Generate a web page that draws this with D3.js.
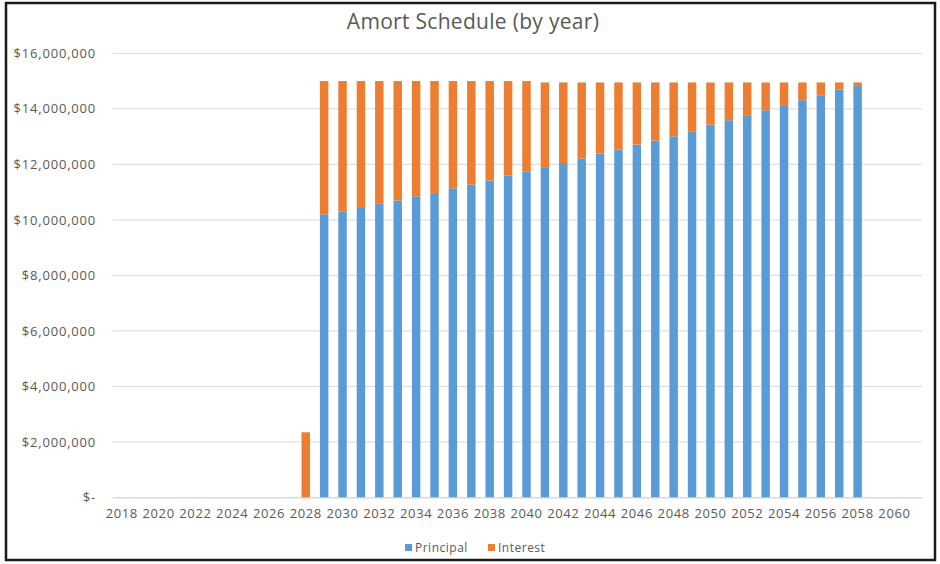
<!DOCTYPE html>
<html>
<head>
<meta charset="utf-8">
<script src="https://cdn.jsdelivr.net/npm/d3@7"></script>
<style>
  body { margin: 0; background: #fff; }
  svg { display: block; }
  text { font-family: "Open Sans", Lato, sans-serif; }
</style>
</head>
<body>
<svg id="chart" width="940" height="564"></svg>
<script>
// ---- data ----
const years = d3.range(2018, 2062); // 2018..2061 categories
const principal = [
  0,0,0,0,0,0,0,0,0,0,0,            // 2018-2028
  10.20e6, 10.31e6, 10.46e6, 10.58e6, 10.70e6, 10.85e6, 10.97e6, 11.14e6, 11.27e6, 11.42e6, // 2029-2038
  11.59e6, 11.75e6, 11.90e6, 12.05e6, 12.21e6, 12.39e6, 12.53e6, 12.71e6, 12.86e6, 13.01e6, // 2039-2048
  13.19e6, 13.43e6, 13.59e6, 13.77e6, 13.95e6, 14.10e6, 14.31e6, 14.49e6, 14.69e6, 14.82e6, // 2049-2058
  0,0,0                              // 2059-2061
];
const interest = [
  0,0,0,0,0,0,0,0,0,0, 2.35e6,      // 2018-2028
  4.80e6, 4.69e6, 4.54e6, 4.42e6, 4.30e6, 4.15e6, 4.03e6, 3.86e6, 3.73e6, 3.58e6,
  3.41e6, 3.25e6, 3.05e6, 2.90e6, 2.74e6, 2.56e6, 2.42e6, 2.24e6, 2.09e6, 1.94e6,
  1.76e6, 1.52e6, 1.36e6, 1.18e6, 1.00e6, 0.85e6, 0.64e6, 0.46e6, 0.26e6, 0.13e6,
  0,0,0
];
const seriesNames = ["Principal", "Interest"];
const seriesColors = ["#5B9BD5", "#ED7D31"];
const yTicks = [0, 2e6, 4e6, 6e6, 8e6, 10e6, 12e6, 14e6, 16e6];
const xTickLabels = d3.range(2018, 2061, 2);
const title = "Amort Schedule (by year)";

// ---- layout ----
const svg = d3.select("#chart");
const plot = { left: 112.6, right: 922, top: 53.3, bottom: 497.5 };
const tickFont = "13px";

// frame
svg.append("rect").attr("x", 6).attr("y", 3).attr("width", 929).attr("height", 557)
  .attr("fill", "#fff").attr("stroke", "#1a1a1a").attr("stroke-width", 2.5);

const x = d3.scaleBand().domain(years).range([plot.left, plot.right])
  .paddingInner(0.54).paddingOuter(0.27);
const y = d3.scaleLinear().domain([0, 16e6]).range([plot.bottom, plot.top]);

// gridlines
svg.append("g").selectAll("line").data(yTicks).join("line")
  .attr("x1", plot.left).attr("x2", plot.right)
  .attr("y1", d => y(d)).attr("y2", d => y(d))
  .attr("stroke", "#d9d9d9").attr("stroke-width", 1);

// y axis labels
const fmt = d => d === 0 ? "$-" : "$" + d3.format(",")(d);
const yAxis = d3.axisLeft(y).tickValues(yTicks).tickFormat(fmt).tickSize(0).tickPadding(0);
const gy = svg.append("g").attr("transform", "translate(96,0)").call(yAxis);
gy.select(".domain").remove();
gy.selectAll("text").attr("fill", "#595959").style("font-size", tickFont)
  .style("letter-spacing", "0.8px")
  .style("font-family", "'Open Sans', Lato, sans-serif");

// stacked bars
const rows = years.map((yr, i) => ({ year: yr, Principal: principal[i], Interest: interest[i] }));
const stack = d3.stack().keys(seriesNames)(rows);
svg.append("g").selectAll("g").data(stack).join("g")
  .attr("fill", (d, i) => seriesColors[i])
  .selectAll("rect").data(d => d).join("rect")
  .attr("x", d => x(d.data.year))
  .attr("width", x.bandwidth())
  .attr("y", d => y(d[1]))
  .attr("height", d => Math.max(0, y(d[0]) - y(d[1])));

// x axis
const xAxis = d3.axisBottom(x).tickValues(xTickLabels).tickSize(0).tickPadding(11);
const gx = svg.append("g").attr("transform", `translate(0,${plot.bottom})`).call(xAxis);
gx.select(".domain").attr("stroke", "#d9d9d9");
gx.selectAll("text").attr("fill", "#595959").style("font-size", tickFont)
  .style("letter-spacing", "0.6px")
  .style("font-family", "'Open Sans', Lato, sans-serif");

// title
svg.append("text").attr("x", 473).attr("y", 29).attr("text-anchor", "middle")
  .attr("fill", "#595959").style("font-size", "21px").style("letter-spacing", "0.3px").text(title);

// legend
const legendItems = [{ name: "Principal", x: 405 }, { name: "Interest", x: 488 }];
const lg = svg.append("g").selectAll("g").data(legendItems).join("g")
  .attr("transform", d => `translate(${d.x},544)`);
lg.append("rect").attr("width", 7).attr("height", 7)
  .attr("fill", (d, i) => seriesColors[i]);
lg.append("text").attr("x", 10).attr("y", 7.5).attr("fill", "#595959")
  .style("font-size", "12px").style("letter-spacing", "0.5px").text(d => d.name);
</script>
</body>
</html>
